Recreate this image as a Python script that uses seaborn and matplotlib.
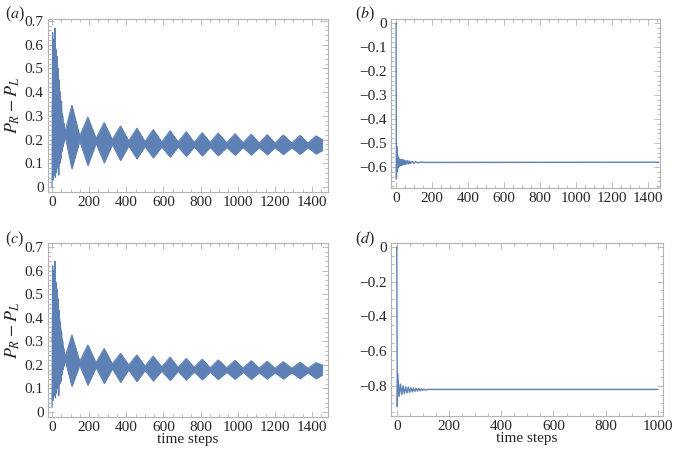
import numpy as np
import pandas as pd
import matplotlib
matplotlib.use('Agg')
import matplotlib.pyplot as plt
from matplotlib.ticker import MultipleLocator, FuncFormatter
import seaborn as sns

# envelope of the fast oscillation, panels (a) and (c): waists and bump peaks
x_env = [0, 5, 12, 20, 30, 40, 50, 60, 70,
         106, 148, 192, 236, 280, 324, 368, 412, 456, 500, 544, 590, 635, 678,
         722, 765, 808, 851, 894, 940, 985, 1028, 1072, 1115, 1158, 1200, 1245,
         1290, 1335, 1378, 1421, 1455]

upper_a = [0.30, 0.50, 0.58, 0.55, 0.48, 0.40, 0.32, 0.27, 0.235,
           0.345, 0.215, 0.295, 0.205, 0.272, 0.20, 0.258, 0.195, 0.248, 0.192, 0.243, 0.19, 0.238, 0.19,
           0.234, 0.188, 0.23, 0.188, 0.228, 0.187, 0.225, 0.187, 0.223, 0.186, 0.221, 0.186, 0.22,
           0.186, 0.218, 0.186, 0.216, 0.20]
lower_a = [0.05, 0.08, 0.10, 0.11, 0.12, 0.14, 0.16, 0.18, 0.215,
           0.078, 0.195, 0.092, 0.185, 0.103, 0.18, 0.113, 0.175, 0.12, 0.172, 0.124, 0.17, 0.127, 0.17,
           0.13, 0.17, 0.132, 0.168, 0.133, 0.168, 0.135, 0.168, 0.136, 0.167, 0.137, 0.167, 0.138,
           0.167, 0.139, 0.167, 0.14, 0.155]

upper_c = [0.30, 0.48, 0.56, 0.53, 0.46, 0.39, 0.32, 0.27, 0.235,
           0.327, 0.215, 0.285, 0.21, 0.27, 0.205, 0.25, 0.20, 0.243, 0.195, 0.238, 0.192, 0.233, 0.19,
           0.228, 0.19, 0.225, 0.188, 0.222, 0.188, 0.22, 0.187, 0.218, 0.187, 0.216, 0.186, 0.214,
           0.186, 0.212, 0.186, 0.21, 0.20]
lower_c = [0.07, 0.10, 0.12, 0.13, 0.14, 0.15, 0.17, 0.19, 0.22,
           0.11, 0.20, 0.115, 0.19, 0.122, 0.185, 0.127, 0.18, 0.13, 0.178, 0.133, 0.175, 0.135, 0.174,
           0.137, 0.172, 0.138, 0.17, 0.139, 0.17, 0.14, 0.17, 0.14, 0.168, 0.141, 0.168, 0.141,
           0.168, 0.142, 0.168, 0.142, 0.158]

# early spikes of panels (a) and (c)
x_early = [0, 3, 6, 9, 12, 15, 18, 21, 24, 27, 30, 33, 36, 39, 42, 45, 48, 51,
           54, 57, 60, 63, 66, 70]
y_early_a = [0.0, 0.65, 0.03, 0.62, 0.05, 0.67, 0.04, 0.58, 0.06, 0.55, 0.08,
             0.50, 0.05, 0.45, 0.10, 0.40, 0.12, 0.36, 0.15, 0.30, 0.17, 0.27,
             0.20, 0.23]
y_early_c = [0.02, 0.62, 0.05, 0.60, 0.07, 0.64, 0.06, 0.55, 0.08, 0.52, 0.10,
             0.48, 0.07, 0.43, 0.12, 0.38, 0.13, 0.34, 0.16, 0.30, 0.18, 0.27,
             0.20, 0.23]

# panel (b): transient then settles at -0.58
x_b = [0, 2, 4, 6, 8, 10, 12, 14, 16, 18, 20, 23, 26, 29, 32, 35, 38, 42, 46, 50,
       55, 60, 65, 70, 75, 80, 90, 100, 110, 120, 140, 160, 1460]
y_b = [0, -0.65, -0.515, -0.62, -0.55, -0.605, -0.56, -0.60, -0.565, -0.595, -0.57,
       -0.592, -0.57, -0.593, -0.568, -0.592, -0.57, -0.59, -0.572, -0.59,
       -0.573, -0.588, -0.574, -0.587, -0.575, -0.586, -0.576, -0.585, -0.577, -0.583,
       -0.579, -0.581, -0.58]

# panel (d): transient then settles at -0.82
x_d = [0, 2, 4, 9, 14, 19, 24, 29, 34, 39, 44, 49, 54, 59, 64, 69, 74, 79, 84, 89,
       94, 99, 104, 110, 120, 1000]
y_d = [0, -0.92, -0.73, -0.86, -0.79, -0.85, -0.80, -0.845, -0.805, -0.84, -0.807,
       -0.837, -0.81, -0.834, -0.812, -0.832, -0.814, -0.83, -0.815, -0.828, -0.816,
       -0.826, -0.818, -0.824, -0.82, -0.82]

blue = '#5e81b5'
frame = '#b3b3b3'

sns.set_style('ticks')
plt.rcParams['font.family'] = ['Liberation Serif', 'DejaVu Serif']
plt.rcParams['mathtext.fontset'] = 'stix'

fig = plt.figure(figsize=(6.73, 4.5), dpi=100)
ax_a = fig.add_axes([0.0713, 0.5733, 0.416, 0.3844])
ax_b = fig.add_axes([0.581, 0.5822, 0.3997, 0.3756])
ax_c = fig.add_axes([0.0713, 0.0733, 0.416, 0.3867])
ax_d = fig.add_axes([0.581, 0.0756, 0.404, 0.3844])


def fmt(v, p):
    if abs(v) < 1e-9:
        return '0'
    return f'{v:.1f}'.replace('-', '\u2212')


def style(ax, xmaj, xmin, ymaj, ymin):
    for s in ax.spines.values():
        s.set_color(frame)
        s.set_linewidth(0.8)
    ax.xaxis.set_major_locator(MultipleLocator(xmaj))
    ax.xaxis.set_minor_locator(MultipleLocator(xmin))
    ax.yaxis.set_major_locator(MultipleLocator(ymaj))
    ax.yaxis.set_minor_locator(MultipleLocator(ymin))
    ax.yaxis.set_major_formatter(FuncFormatter(fmt))
    ax.tick_params(which='both', direction='in', top=True, right=True,
                   color=frame, labelsize=11, pad=3, width=0.6)
    ax.tick_params(which='major', length=4)
    ax.tick_params(which='minor', length=2)
    ax.set_xlabel('')
    ax.set_ylabel('')


def band(ax, lo, hi, y_early):
    ax.fill_between(x_env, lo, hi, color=blue, lw=0.6, edgecolor=blue)
    sns.lineplot(x=x_env, y=hi, ax=ax, color=blue, lw=0.6)
    sns.lineplot(x=x_env, y=lo, ax=ax, color=blue, lw=0.6)
    sns.lineplot(x=x_early, y=y_early, ax=ax, color=blue, lw=0.9)


band(ax_a, lower_a, upper_a, y_early_a)
ax_a.set_xlim(-22, 1486)
ax_a.set_ylim(-0.021, 0.708)
style(ax_a, 200, 50, 0.1, 0.02)

band(ax_c, lower_c, upper_c, y_early_c)
ax_c.set_xlim(-22, 1486)
ax_c.set_ylim(-0.021, 0.717)
style(ax_c, 200, 50, 0.1, 0.02)

sns.lineplot(x=x_b, y=y_b, ax=ax_b, color=blue, lw=1.0)
ax_b.set_xlim(-28, 1467)
ax_b.set_ylim(-0.6875, 0.0167)
style(ax_b, 200, 50, 0.1, 0.02)

sns.lineplot(x=x_d, y=y_d, ax=ax_d, color=blue, lw=1.0)
ax_d.set_xlim(-22, 1019)
ax_d.set_ylim(-0.973, 0.023)
style(ax_d, 200, 50, 0.2, 0.05)

ax_a.set_ylabel('$P_R - P_L$', fontsize=13, labelpad=2)
ax_c.set_ylabel('$P_R - P_L$', fontsize=13, labelpad=2)
ax_c.set_xlabel('time steps', fontsize=11, labelpad=-1)
ax_d.set_xlabel('time steps', fontsize=11, labelpad=-1)

for lab, x, y in [('a', 0.008, 0.99), ('b', 0.528, 0.99),
                  ('c', 0.008, 0.49), ('d', 0.528, 0.49)]:
    fig.text(x, y, f'(${lab}$)', fontsize=11.5, va='top', ha='left')

fig.savefig('out.png', dpi=100)
